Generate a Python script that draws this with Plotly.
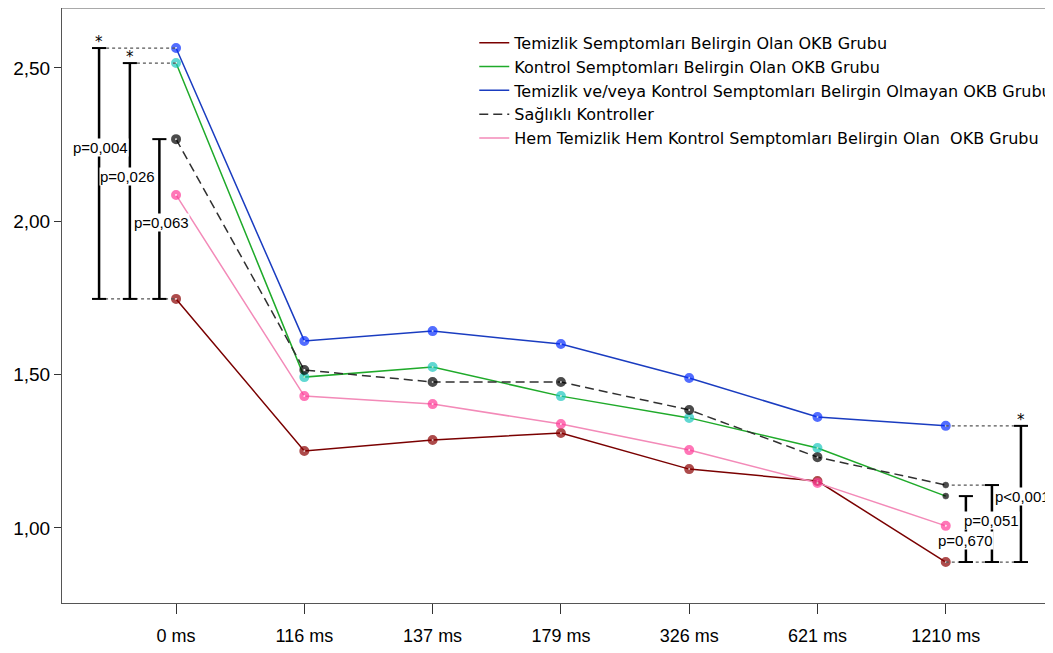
import plotly.graph_objects as go

categories = ["0 ms", "116 ms", "137 ms", "179 ms", "326 ms", "621 ms", "1210 ms"]

temizlik = [1.747, 1.251, 1.287, 1.310, 1.192, 1.153, 0.889]
kontrol = [2.516, 1.492, 1.525, 1.430, 1.359, 1.261, 1.104]
olmayan = [2.565, 1.610, 1.642, 1.600, 1.489, 1.362, 1.333]
saglikli = [2.268, 1.515, 1.476, 1.476, 1.385, 1.231, 1.140]
hem = [2.086, 1.430, 1.404, 1.339, 1.254, 1.147, 1.007]

names = [
    "Temizlik Semptomları Belirgin Olan OKB Grubu",
    "Kontrol Semptomları Belirgin Olan OKB Grubu",
    "Temizlik ve/veya Kontrol Semptomları Belirgin Olmayan OKB Grubu",
    "Sağlıklı Kontroller",
    "Hem Temizlik Hem Kontrol Semptomları Belirgin Olan  OKB Grubu",
]

y_tick_vals = [1.0, 1.5, 2.0, 2.5]
y_tick_text = ["1,00", "1,50", "2,00", "2,50"]

left_p = ["p=0,004", "p=0,026", "p=0,063"]
right_p = ["p<0,001", "p=0,051", "p=0,670"]

x = list(range(len(categories)))

series = [
    (temizlik, names[0], "#7a0000", "solid", "#8b0000"),
    (kontrol, names[1], "#1faa2a", "solid", "#1fc8c0"),
    (olmayan, names[2], "#1a3cc0", "solid", "#0a30ff"),
    (saglikli, names[3], "#303030", "dash", "#000000"),
    (hem, names[4], "#f38ab8", "solid", "#ff3d9a"),
]

fig = go.Figure()
for vals, nm, lc, dash, mc in series:
    fig.add_trace(go.Scatter(x=x, y=vals, mode="lines", name=nm,
                             line=dict(color=lc, width=1.5,
                                       dash="solid" if dash == "solid" else "9px,5px")))

# markers
for i, (vals, nm, lc, dash, mc) in enumerate(series):
    cols = [mc] * len(vals)
    sizes = [6] * len(vals)
    fills = ["white"] * len(vals)
    lw = [4] * len(vals)
    if i in (1, 3):
        cols[-1] = "#000000"
        fills[-1] = "#000000"
        sizes[-1] = 6
        lw[-1] = 0.5
    fig.add_trace(go.Scatter(x=x, y=vals, mode="markers", showlegend=False,
                             marker=dict(symbol="circle", size=sizes, color=fills,
                                         line=dict(color=cols, width=lw)),
                             hoverinfo="skip"))

shapes = []
annotations = []
dot = dict(color="#555555", width=1.2, dash="dot")
bar = dict(color="#000000", width=2.5)
cap_hw = 0.055
pfont = dict(family="Liberation Sans", size=15, color="black")
sfont = dict(family="DejaVu Sans", size=15, color="black")

def bracket(xb, y0, y1):
    shapes.append(dict(type="line", xref="x", yref="y", x0=xb, x1=xb, y0=y0, y1=y1, line=bar))
    for yy in (y0, y1):
        shapes.append(dict(type="line", xref="x", yref="y", x0=xb - cap_hw, x1=xb + cap_hw,
                           y0=yy, y1=yy, line=dict(color="#000000", width=2)))

# left brackets (0 ms)
lx = [-0.60, -0.36, -0.13]
ltops = [olmayan[0], kontrol[0], saglikli[0]]
base = temizlik[0]
shapes.append(dict(type="line", xref="x", yref="y", x0=lx[0], x1=0, y0=base, y1=base, line=dot))
for j, (xb, top) in enumerate(zip(lx, ltops)):
    bracket(xb, base, top)
    if j < 2:
        shapes.append(dict(type="line", xref="x", yref="y", x0=xb + cap_hw, x1=0, y0=top, y1=top, line=dot))
        annotations.append(dict(x=xb, y=top, xref="x", yref="y", text="*", showarrow=False,
                                yshift=6, font=sfont))
lp_y = [2.24, 2.145, 1.997]
lp_x = [-0.59, -0.375, -0.115]
for t, xx, yy in zip(left_p, lp_x, lp_y):
    annotations.append(dict(x=xx, y=yy, xref="x", yref="y", text=t, showarrow=False,
                            bgcolor="white", borderpad=0, font=pfont))

# right brackets (1210 ms)
rx = [6.586, 6.36, 6.157]
rtops = [olmayan[-1], saglikli[-1], kontrol[-1]]
rbase = temizlik[-1]
shapes.append(dict(type="line", xref="x", yref="y", x0=6, x1=rx[0], y0=rbase, y1=rbase, line=dot))
for j, (xb, top) in enumerate(zip(rx, rtops)):
    bracket(xb, rbase, top)
    if j < 2:
        shapes.append(dict(type="line", xref="x", yref="y", x0=6, x1=xb - cap_hw, y0=top, y1=top, line=dot))
annotations.append(dict(x=rx[0], y=rtops[0], xref="x", yref="y", text="*", showarrow=False,
                        yshift=6, font=sfont))
rp_y = [1.104, 1.026, 0.96]
rp_x = [6.60, 6.36, 6.15]
for t, xx, yy in zip(right_p, rp_x, rp_y):
    annotations.append(dict(x=xx, y=yy, xref="x", yref="y", text=t, showarrow=False,
                            bgcolor="white", borderpad=0, font=pfont))

# top frame line
shapes.append(dict(type="line", xref="paper", yref="paper", x0=0, x1=1, y0=1, y1=1,
                   line=dict(color="#555555", width=1)))

fig.update_layout(
    width=1045, height=645,
    margin=dict(l=54, r=0, t=0, b=50, autoexpand=False),
    plot_bgcolor="white", paper_bgcolor="white",
    shapes=shapes, annotations=annotations,
    showlegend=True,
    legend=dict(x=0.416, y=0.970, xanchor="left", yanchor="top",
                bgcolor="rgba(0,0,0,0)", itemwidth=30,
                font=dict(family="DejaVu Sans", size=16, color="black"),
                tracegroupgap=0),
    xaxis=dict(range=[-0.889, 6.836], tickmode="array", tickvals=x, ticktext=categories,
               showgrid=False, zeroline=False, showline=True, linecolor="#555555", linewidth=1,
               ticks="outside", ticklen=10, tickcolor="#333333", automargin=False,
               ticklabelstandoff=6,
               tickfont=dict(family="Liberation Sans", size=18, color="black")),
    yaxis=dict(range=[0.7554, 2.6956], tickmode="array", tickvals=y_tick_vals, ticktext=y_tick_text,
               showgrid=False, zeroline=False, showline=True, linecolor="#555555", linewidth=1,
               ticks="outside", ticklen=7, tickcolor="#333333", automargin=False,
               tickfont=dict(family="Liberation Sans", size=19, color="black")),
)

fig.write_html("out.html")
